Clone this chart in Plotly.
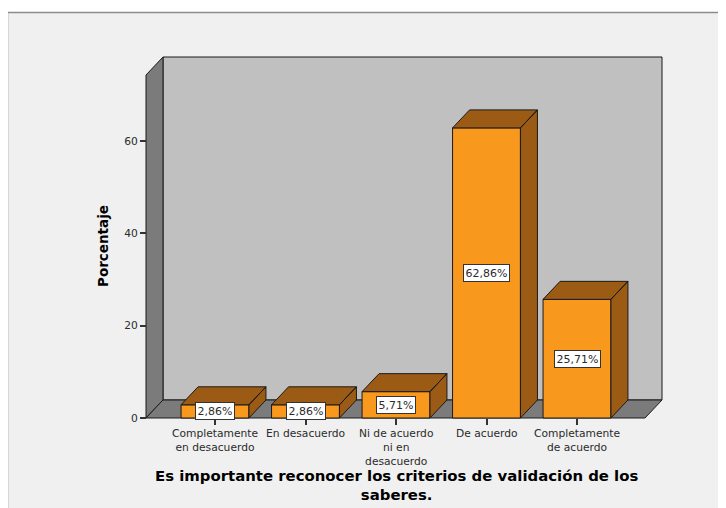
import plotly.graph_objects as go

categories = ["Completamente<br>en desacuerdo", "En desacuerdo",
              "Ni de acuerdo<br>ni en<br>desacuerdo", "De acuerdo",
              "Completamente<br>de acuerdo"]
values = [2.86, 2.86, 5.71, 62.86, 25.71]
y_ticks = [0, 20, 40, 60]
x_title_lines = ["Es importante reconocer los criterios de validación de los", "saberes."]
y_title = "Porcentaje"

OFF = 8                       # page body margin
W, H = 726 - OFF, 508 - OFF
SX = 90.5     # px per category unit
SY = 4.615    # px per percent
X0PX, Y0PX = 215, 418         # screen px of category 0 / value 0
plot_l, plot_r, plot_t, plot_b = 143, 667, 54, 422   # screen px
pw, ph = plot_r - plot_l, plot_b - plot_t
xr = [(plot_l - X0PX) / SX, (plot_r - X0PX) / SX]
yr = [(Y0PX - plot_b) / SY, (Y0PX - plot_t) / SY]

bar_w = 0.75
dx = 17 / SX
dy = 18 / SY
x_left = (146 - X0PX) / SX
x_right = (645 - X0PX) / SX
y_top = (418 - 75) / SY

FRONT = "#F8981D"
DARK = "#9C5B14"
EDGE = "#1a1a1a"
WALL_BACK = "#C0C0C0"
WALL_SIDE = "#7B7B7B"
FONT = "DejaVu Sans"
TXT = "#2b2b2b"


def path(pts):
    return "M " + " L ".join(f"{x},{y}" for x, y in pts) + " Z"


def px2paper_x(p):
    return (p - plot_l) / pw


def px2paper_y(p):
    return (plot_b - p) / ph


shapes = [
    dict(type="rect", xref="paper", yref="paper", layer="below",
         x0=px2paper_x(7.5), x1=px2paper_x(760), y0=px2paper_y(540), y1=px2paper_y(12.5),
         fillcolor="#F0F0F0", line=dict(color="#8C8C8C", width=1.5)),
    dict(type="path", xref="x", yref="y", layer="below",
         path=path([(x_left + dx, dy), (x_right + dx, dy), (x_right + dx, y_top + dy), (x_left + dx, y_top + dy)]),
         fillcolor=WALL_BACK, line=dict(color=EDGE, width=1)),
    dict(type="path", xref="x", yref="y", layer="below",
         path=path([(x_left, 0), (x_left, y_top), (x_left + dx, y_top + dy), (x_left + dx, dy)]),
         fillcolor=WALL_SIDE, line=dict(color=EDGE, width=1)),
    dict(type="path", xref="x", yref="y", layer="below",
         path=path([(x_left, 0), (x_right, 0), (x_right + dx, dy), (x_left + dx, dy)]),
         fillcolor=WALL_SIDE, line=dict(color=EDGE, width=1)),
]

fig = go.Figure()

fig.add_trace(go.Bar(x=list(range(len(values))), y=values, width=bar_w,
                     marker=dict(color=FRONT, line=dict(color=EDGE, width=1)),
                     hoverinfo="skip", showlegend=False))

px_, py_ = [], []
for i, v in enumerate(values):
    xl, xrr = i - bar_w / 2, i + bar_w / 2
    top = [(xl, v), (xrr, v), (xrr + dx, v + dy), (xl + dx, v + dy), (xl, v)]
    side = [(xrr, 0), (xrr, v), (xrr + dx, v + dy), (xrr + dx, dy), (xrr, 0)]
    for poly in (top, side):
        px_ += [p[0] for p in poly] + [None]
        py_ += [p[1] for p in poly] + [None]
fig.add_trace(go.Scatter(x=px_, y=py_, mode="lines", fill="toself", fillcolor=DARK,
                         line=dict(color=EDGE, width=1), hoverinfo="skip", showlegend=False))

annotations = []
for i, v in enumerate(values):
    annotations.append(dict(x=i, y=v / 2, xref="x", yref="y",
                            text=f"{v:.2f}".replace(".", ",") + "%", showarrow=False,
                            xanchor="center", yanchor="middle",
                            font=dict(family=FONT, size=11, color=TXT),
                            bgcolor="white", bordercolor="#333333", borderwidth=1, borderpad=1.5))

for i, lab in enumerate(categories):
    annotations.append(dict(x=i, y=px2paper_y(425.5), xref="x", yref="paper",
                            text=lab, showarrow=False, xanchor="center", yanchor="top",
                            font=dict(family=FONT, size=10.7, color=TXT)))

annotations.append(dict(x=px2paper_x(103), y=px2paper_y(246), xref="paper", yref="paper",
                        text=f"<b>{y_title}</b>", textangle=-90, showarrow=False,
                        xanchor="center", yanchor="middle",
                        font=dict(family=FONT, size=13.5, color="black")))
annotations.append(dict(x=px2paper_x(396), y=px2paper_y(486), xref="paper", yref="paper",
                        text="<br>".join(f"<b>{l}</b>" for l in x_title_lines), showarrow=False,
                        xanchor="center", yanchor="middle",
                        font=dict(family=FONT, size=14.9, color="black")))

fig.update_layout(
    width=W, height=H,
    margin=dict(l=plot_l - OFF, r=W - (plot_r - OFF), t=plot_t - OFF, b=H - (plot_b - OFF), pad=0),
    paper_bgcolor="white", plot_bgcolor="rgba(0,0,0,0)",
    shapes=shapes, annotations=annotations, showlegend=False,
    xaxis=dict(range=xr, tickmode="array", tickvals=list(range(len(categories))),
               ticktext=[""] * len(categories), ticks="outside", ticklen=6, tickcolor="#333333",
               tickwidth=1.5, showgrid=False, zeroline=False, showline=False,
               anchor="free", position=(plot_b - Y0PX) / ph),
    yaxis=dict(range=yr, tickmode="array", tickvals=y_ticks, ticks="outside", ticklen=6,
               tickcolor="#333333", tickwidth=1.5, showgrid=False, zeroline=False, showline=False,
               anchor="free", position=(146 - plot_l) / pw,
               tickfont=dict(family=FONT, size=10.7, color=TXT)),
)

fig.write_html("out.html")
